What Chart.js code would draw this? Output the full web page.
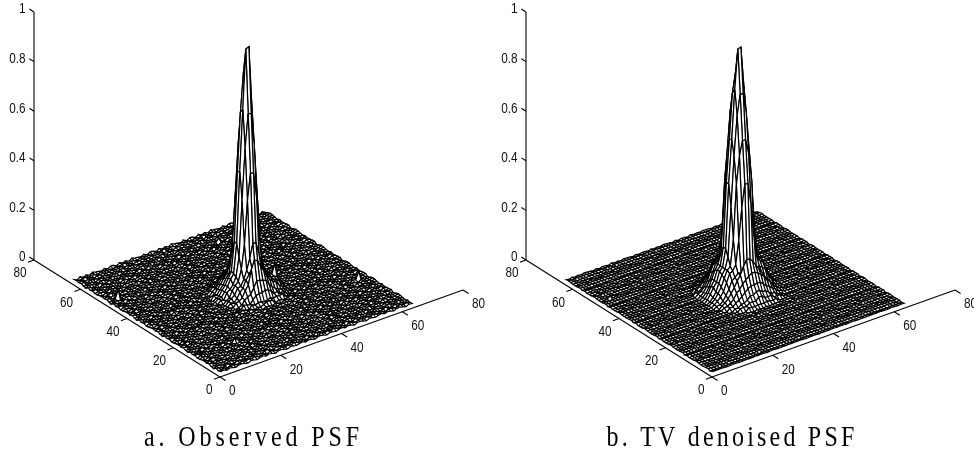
<!DOCTYPE html>
<html><head><meta charset="utf-8">
<style>html,body{margin:0;padding:0;background:#fff;overflow:hidden}canvas{display:block}</style>
<script src="https://cdn.jsdelivr.net/npm/chart.js@4/dist/chart.umd.js"></script>
</head><body><canvas id="c" width="974" height="452"></canvas>
<script>
// ---------- data ----------
const xTicks = [0, 20, 40, 60, 80];
const yTicks = [0, 20, 40, 60, 80];
const zTicks = [0, 0.2, 0.4, 0.6, 0.8, 1];
const captions = ["a. Observed PSF", "b. TV denoised PSF"];
const gridSize = 64;
const tableStartX = 23, tableStartY = 22;   // first x / y index of the peak tables
const baseLevel = 0.01;

// Estimated surface height around the peak, percent; rows y=22..43, columns x=23..44
const peakObserved = [
[0,0,0,0,0,0,0,0,0,0,0,0,0,0,0,0,0,0,0,0,0,0],
[0,0,0,0,0,0,0,0,0,1,1,1,1,0,0,0,0,0,0,0,0,0],
[0,0,0,0,0,0,1,1,1,1,1,1,1,1,1,1,1,0,0,0,0,0],
[0,0,0,0,1,1,1,2,3,4,4,4,4,3,2,2,1,1,0,0,0,0],
[0,0,0,0,1,2,3,4,6,8,8,8,7,5,4,3,2,2,1,0,0,0],
[0,0,0,1,2,3,5,7,13,16,15,13,11,8,6,5,4,3,2,1,0,0],
[0,0,1,1,2,4,6,8,10,12,12,12,11,9,7,6,5,4,3,2,0,0],
[0,0,1,2,3,5,6,8,11,16,21,21,16,11,8,6,5,5,4,2,1,0],
[0,0,1,2,4,6,7,11,21,38,49,49,38,21,11,7,6,5,9,3,1,0],
[0,1,1,3,4,6,8,16,38,59,72,72,59,38,16,8,6,5,5,3,1,0],
[0,1,1,3,5,7,9,21,49,74,98,98,74,49,21,9,7,5,3,1,1,0],
[0,1,1,3,5,7,9,21,49,72,88,86,72,49,21,9,7,5,3,1,1,0],
[0,1,1,3,4,6,8,16,38,59,72,72,59,38,16,8,6,4,3,1,1,0],
[0,0,1,2,4,6,7,11,21,38,49,49,38,21,11,7,6,4,2,1,0,0],
[0,0,1,2,3,5,6,8,11,16,21,21,16,11,8,6,5,3,2,1,0,0],
[0,0,1,2,2,4,5,6,7,8,9,9,8,7,6,5,4,2,2,1,0,0],
[0,0,0,1,1,3,4,5,6,6,7,7,6,6,5,4,3,2,1,1,0,0],
[0,0,0,0,1,1,2,3,4,4,5,5,4,4,3,2,2,1,1,0,0,0],
[0,0,0,0,0,1,1,2,2,3,3,3,3,2,2,2,1,1,0,0,0,0],
[0,0,0,0,0,0,1,1,1,1,1,1,1,1,1,1,1,0,0,0,0,0],
[0,0,0,0,0,0,0,0,0,1,1,1,1,0,0,0,0,0,0,0,0,0],
[0,0,0,0,0,0,0,0,0,0,0,0,0,0,0,0,0,0,0,0,0,0]
];
const peakDenoised = [
[0,0,0,0,0,0,1,1,1,1,1,1,1,1,1,1,0,0,0,0,0,0],
[0,0,0,0,1,1,1,2,2,2,3,3,2,2,2,1,1,1,0,0,0,0],
[0,0,0,1,1,2,2,3,4,4,5,5,4,4,3,2,2,1,1,0,0,0],
[0,0,1,1,2,3,4,5,6,7,7,7,7,6,5,4,3,2,1,1,0,0],
[0,1,1,2,3,5,6,8,9,10,11,11,10,9,8,6,5,3,2,1,1,0],
[0,1,2,3,5,7,9,11,14,16,16,15,13,11,9,7,5,3,2,1,1,0],
[1,1,2,4,6,9,10,11,11,12,12,12,12,11,11,10,9,6,4,2,1,1],
[1,2,3,5,8,11,12,14,23,36,45,45,36,23,14,12,11,8,5,3,2,1],
[1,2,4,6,9,12,13,23,45,56,62,62,56,45,23,13,12,9,6,4,2,1],
[1,2,4,7,10,12,16,36,56,72,80,80,72,56,36,16,12,10,7,4,2,1],
[1,3,5,7,11,12,19,45,62,82,98,98,82,62,45,19,12,11,7,5,3,1],
[1,3,5,7,11,12,19,45,62,80,88,86,80,62,45,19,12,11,7,5,3,1],
[1,2,4,7,10,12,16,36,56,72,80,80,72,56,36,16,12,10,7,4,2,1],
[1,2,4,6,9,12,13,23,45,56,62,62,56,45,23,13,12,9,6,4,2,1],
[1,2,3,5,8,11,12,14,23,36,45,45,36,23,14,12,11,8,5,3,2,1],
[1,1,2,4,6,9,11,12,13,16,19,19,16,13,12,11,9,6,4,2,1,1],
[0,1,2,3,5,7,9,11,12,12,12,12,12,12,11,9,7,5,3,2,1,0],
[0,1,1,2,3,5,6,8,9,10,11,11,10,9,8,6,5,3,2,1,1,0],
[0,0,1,1,2,3,4,5,6,7,7,7,7,6,5,4,3,2,1,1,0,0],
[0,0,0,1,1,2,2,3,4,4,5,5,4,4,3,2,2,1,1,0,0,0],
[0,0,0,0,1,1,1,2,2,2,3,3,2,2,2,1,1,1,0,0,0,0],
[0,0,0,0,0,0,1,1,1,1,1,1,1,1,1,1,0,0,0,0,0,0]
];
// Hand-estimated background texture, per mille; repeats across the floor of each surface
const floorObserved = [
[ 2,-3, 1, 4,-1,-4, 3, 1,-2, 4,-1,-3, 2],
[-3, 1, 4,-2, 3, 0,-4, 2, 3,-1,-4, 2, 0],
[ 4,-1,-2, 2,-4, 3, 1,-3, 0, 4,-2, 3,-1],
[-1, 3, 0,-4, 2, 4,-2,-3, 3, 0, 1,-4, 2],
[ 1,-4, 3, 1,-2,-1, 4, 2,-3, 3, 4,-1,-2],
[ 4,-2,-3, 2, 0,-3, 2, 4,-1,-3, 1, 3, 0],
[-2, 3, 2,-4, 4, 1,-1,-3, 2, 0,-4, 1, 3],
[ 1, 0, 4,-3,-1, 3,-4, 2, 1, 4,-2,-1, 4],
[-3, 2,-1, 1, 4,-2, 2, 0,-4, 3, 3,-2, 0],
[ 3, 1,-4, 3,-2, 2,-3, 4, 1,-1,-3, 2,-4],
[-1,-2, 3, 0,-3, 4, 0,-1, 4,-2, 2, 1, 3]
];
const floorDenoised = [
[ 1,-2, 0, 2,-1,-2, 1, 0,-1, 2,-1,-2, 1],
[ 1, 1, 2, 1, 2, 1, 0, 1, 2, 1, 0, 1, 1],
[-1,-2,-2,-1,-3,-1,-2,-2,-1,-1,-2,-1,-2],
[ 0, 2, 0,-1, 1, 2,-1,-1, 2, 0, 1,-2, 1],
[ 1, 0, 2, 1, 0, 1, 2, 1, 0, 2, 2, 0, 1],
[ 2,-1,-2, 1, 0,-2, 1, 2,-1,-1, 0, 2, 0],
[-2,-1, 0,-2, 1,-1,-1,-2, 0,-1,-2, 0, 0],
[ 0, 0, 2,-1,-1, 1,-2, 1, 0, 2,-1,-1, 2],
[ 1, 2, 1, 1, 3, 1, 2, 1, 0, 2, 2, 1, 1],
[ 1, 0,-2, 2,-1, 1,-1, 2, 1, 0,-2, 1,-2],
[-1,-1, 1, 0,-2, 2, 0,-1, 2,-1, 1, 0, 2]
];
// Isolated spikes visible on the floor: x, y, height
const spikesObserved = [[4,49,0.035],[61,20,0.03],[44,58,0.015],[14,12,0.015]];
const spikesDenoised = [[4,49,0.012]];

// ---------- view of the 3-D box on the page ----------
const W = 974, H = 452;
const panelOffsets = [0, 492];
const captionCenters = [253.5, 732];
const captionSpacing = ['3.9px', '3.2px'];
const origin = {x: 220, y: 377};
const perX = {x: 3.0375, y: -1.0875};
const perY = {x: -2.325, y: -1.4625};
const perZ = -248;
const project = (px, x, y, z) => ({
  x: px + origin.x + perX.x * x + perY.x * y,
  y: origin.y + perX.y * x + perY.y * y + perZ * z
});

function surfaceGrid(peak, floorT, spikes) {
  const g = [];
  for (let j = 1; j <= gridSize; j++) {
    const row = [];
    for (let i = 1; i <= gridSize; i++) {
      let z = baseLevel + floorT[j % floorT.length][i % floorT[0].length] / 1000;
      const tj = j - tableStartY, ti = i - tableStartX;
      if (peak[tj] && peak[tj][ti] !== undefined) z += peak[tj][ti] / 100;
      row.push(z);
    }
    g.push(row);
  }
  spikes.forEach(s => { g[s[1] - 1][s[0] - 1] = s[2] + baseLevel; });
  return g;
}

const lineBase = {showLine: true, pointRadius: 0, pointHoverRadius: 0, borderColor: '#000',
  borderWidth: 1.2, borderDash: [6000, 1], borderJoinStyle: 'miter', borderCapStyle: 'butt', tension: 0};

function meshPiece(g, px, j, a, b) {
  // row j from a to b, then back along row j+1 with the cross lines
  const P = (i, k) => project(px, i, k, g[k - 1][i - 1]);
  const pts = [];
  for (let i = a; i <= b; i++) pts.push(P(i, j));
  pts.push(P(b, j + 1));
  for (let i = b - 1; i >= a; i--) {
    pts.push(P(i, j + 1));
    if (i > a) { pts.push(P(i, j)); pts.push(P(i, j + 1)); }
  }
  pts.push(P(a, j));
  return Object.assign({}, lineBase, {data: pts, whiteFill: true});
}

function meshDatasets(g, px) {
  const out = [];
  const lo = 25, hi = 42;
  for (let j = gridSize - 1; j >= 1; j--) {
    if (j >= lo && j < hi) {
      out.push(meshPiece(g, px, j, hi, gridSize));
      for (let i = hi - 1; i >= lo; i--) out.push(meshPiece(g, px, j, i, i + 1));
      out.push(meshPiece(g, px, j, 1, lo));
    } else {
      out.push(meshPiece(g, px, j, 1, gridSize));
    }
  }
  return out;
}

function axisDatasets(px) {
  const seg = (a, b) => Object.assign({}, lineBase, {data: [a, b], borderWidth: 1.1});
  const out = [];
  out.push(seg(project(px, 0, 0, 0), project(px, 80, 0, 0)));
  out.push(seg(project(px, 0, 0, 0), project(px, 0, 80, 0)));
  out.push(seg(project(px, 0, 80, 0), project(px, 0, 80, 1)));
  xTicks.forEach(t => out.push(seg(project(px, t, 0, 0), project(px, t, -2.4, 0))));
  yTicks.forEach(t => out.push(seg(project(px, 0, t, 0), project(px, -2, t, 0))));
  zTicks.forEach(t => out.push(seg(project(px, 0, 80, t), project(px, 0, 82, t))));
  return out;
}

const gridObserved = surfaceGrid(peakObserved, floorObserved, spikesObserved);
const gridDenoised = surfaceGrid(peakDenoised, floorDenoised, spikesDenoised);

// back-most marks first here; Chart.js paints the last dataset first, so the list is reversed
const datasets = [
  ...axisDatasets(panelOffsets[0]), ...axisDatasets(panelOffsets[1]),
  ...meshDatasets(gridObserved, panelOffsets[0]),
  ...meshDatasets(gridDenoised, panelOffsets[1])
].reverse();

const hiddenSurface = {
  id: 'hiddenSurface',
  beforeDatasetDraw(chart, args) {
    const ds = chart.data.datasets[args.index];
    if (!ds.whiteFill) return;
    const ctx = chart.ctx;
    ctx.save();
    ctx.beginPath();
    args.meta.dataset.path(ctx);
    ctx.closePath();
    ctx.fillStyle = '#fff';
    ctx.fill();
    ctx.restore();
  }
};

const labelFont = '14px "Liberation Sans"';
const labelSquash = 0.84;
const boxLabels = {
  id: 'boxLabels',
  afterDraw(chart) {
    const ctx = chart.ctx, sx = chart.scales.x, sy = chart.scales.y;
    const text = (str, x, y, align) => {
      ctx.save();
      ctx.translate(sx.getPixelForValue(x), sy.getPixelForValue(y));
      ctx.scale(labelSquash, 1);
      ctx.font = labelFont; ctx.fillStyle = '#111';
      ctx.textAlign = align; ctx.textBaseline = 'middle';
      ctx.fillText(str, 0, 0);
      ctx.restore();
    };
    panelOffsets.forEach((px, n) => {
      xTicks.forEach(t => { const p = project(px, t, 0, 0); text(String(t), p.x + 9, p.y + 14.5, 'left'); });
      yTicks.forEach(t => { const p = project(px, 0, t, 0); text(String(t), p.x - 7.5, p.y + 13.5, 'right'); });
      zTicks.forEach(t => { const p = project(px, 0, 80, t); text(String(t), p.x - 8.5, p.y - 2.5, 'right'); });
      ctx.save();
      ctx.translate(sx.getPixelForValue(captionCenters[n]), sy.getPixelForValue(446));
      ctx.scale(1, 1.25);
      ctx.font = '24px "Liberation Serif"';
      ctx.letterSpacing = captionSpacing[n];
      ctx.fillStyle = '#000'; ctx.textAlign = 'center'; ctx.textBaseline = 'alphabetic';
      ctx.fillText(captions[n], 0, 0);
      ctx.restore();
    });
  }
};

new Chart(document.getElementById('c'), {
  type: 'scatter',
  data: {datasets},
  plugins: [hiddenSurface, boxLabels],
  options: {
    responsive: false, animation: false, devicePixelRatio: 1,
    layout: {padding: 0},
    events: [],
    plugins: {legend: {display: false}, tooltip: {enabled: false}, title: {display: false}},
    scales: {
      x: {type: 'linear', min: 0, max: W, display: false},
      y: {type: 'linear', min: 0, max: H, reverse: true, display: false}
    }
  }
});
</script></body></html>
